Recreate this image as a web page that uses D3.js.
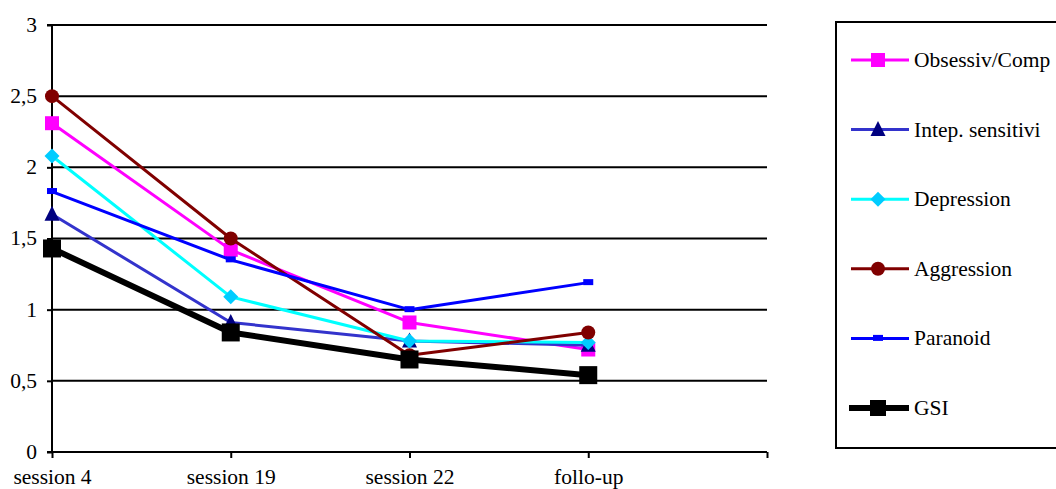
<!DOCTYPE html>
<html>
<head>
<meta charset="utf-8">
<script src="https://cdn.jsdelivr.net/npm/d3@7"></script>
<style>
  html, body { margin: 0; padding: 0; background: #fff; }
</style>
</head>
<body>
<svg id="chart" width="1056" height="489"></svg>
<script>
// Categories along the x axis (an empty fifth slot keeps the axis running past the last session)
const categories = ["session 4", "session 19", "session 22", "follo-up"];
const axisSlots = [...categories, ""];

// Y axis ticks and their labels (comma decimals)
const yTicks = [0, 0.5, 1, 1.5, 2, 2.5, 3];
const yTickLabels = ["0", "0,5", "1", "1,5", "2", "2,5", "3"];

// Series values per category
const obsessivComp = [2.31, 1.42, 0.91, 0.72];
const intepSensitivi = [1.67, 0.91, 0.78, 0.75];
const depression = [2.08, 1.09, 0.78, 0.77];
const aggression = [2.50, 1.50, 0.68, 0.84];
const paranoid = [1.83, 1.35, 1.00, 1.19];
const gsi = [1.43, 0.84, 0.65, 0.54];

const seriesNames = ["Obsessiv/Comp", "Intep. sensitivi", "Depression", "Aggression", "Paranoid", "GSI"];
const seriesValues = [obsessivComp, intepSensitivi, depression, aggression, paranoid, gsi];

// Styling per series
const styles = {
  "Obsessiv/Comp":   { line: "#FF00FF", fill: "#FF00FF", width: 3, marker: "square", size: 14 },
  "Intep. sensitivi":{ line: "#3333CC", fill: "#000080", width: 3, marker: "triangle", size: 15 },
  "Depression":      { line: "#00FFFF", fill: "#00CCFF", width: 3, marker: "diamond", size: 15 },
  "Aggression":      { line: "#800000", fill: "#800000", width: 3, marker: "circle", size: 14 },
  "Paranoid":        { line: "#0000FF", fill: "#0000FF", width: 3, marker: "dash", size: 8 },
  "GSI":             { line: "#000000", fill: "#000000", width: 6, marker: "square", size: 18 }
};

const FONT = "'Liberation Serif', 'DejaVu Serif', 'Times New Roman', serif";
const FONT_SIZE = 21.5;

const svg = d3.select("#chart");
const plot = { left: 52, right: 767, top: 25, bottom: 452 };

const x = d3.scalePoint().domain(axisSlots).range([plot.left, plot.right]);
const y = d3.scaleLinear().domain([0, 3]).range([plot.bottom, plot.top]);

// Horizontal gridlines
svg.append("g")
  .selectAll("line")
  .data(yTicks.filter(t => t > 0))
  .join("line")
  .attr("x1", plot.left).attr("x2", plot.right)
  .attr("y1", d => y(d)).attr("y2", d => y(d))
  .attr("stroke", "#000").attr("stroke-width", 2);

// Y axis
const yAxis = d3.axisLeft(y)
  .tickValues(yTicks)
  .tickFormat((d, i) => yTickLabels[i])
  .tickSize(5).tickPadding(10);
const gy = svg.append("g").attr("transform", `translate(${plot.left},0)`).call(yAxis);
gy.attr("font-family", FONT).attr("font-size", FONT_SIZE);
gy.select(".domain").attr("stroke", "#000").attr("stroke-width", 2).attr("d", `M-5,${plot.top}H0V${plot.bottom}H-5`);
gy.selectAll(".tick line").attr("stroke", "#000").attr("stroke-width", 2);
gy.selectAll(".tick text").attr("fill", "#000").attr("dy", "0.3em");

// X axis
const xAxis = d3.axisBottom(x).tickSize(6).tickPadding(4);
const gx = svg.append("g").attr("transform", `translate(0,${plot.bottom})`).call(xAxis);
gx.attr("font-family", FONT).attr("font-size", FONT_SIZE);
gx.select(".domain").attr("stroke", "#000").attr("stroke-width", 2).attr("d", `M${plot.left},0H${plot.right}`);
gx.selectAll(".tick line").attr("stroke", "#000").attr("stroke-width", 2);
gx.selectAll(".tick text").attr("fill", "#000").attr("y", 32).attr("dy", 0);

// Marker drawing helper
function drawMarker(g, type, size, fill, cx, cy) {
  const h = size / 2;
  if (type === "square") {
    g.append("rect").attr("x", cx - h).attr("y", cy - h).attr("width", size).attr("height", size).attr("fill", fill);
  } else if (type === "circle") {
    g.append("circle").attr("cx", cx).attr("cy", cy).attr("r", h).attr("fill", fill);
  } else if (type === "triangle") {
    g.append("path").attr("d", `M${cx},${cy - h - 1}L${cx + h},${cy + h - 1}L${cx - h},${cy + h - 1}Z`).attr("fill", fill);
  } else if (type === "diamond") {
    g.append("path").attr("d", `M${cx},${cy - h}L${cx + h},${cy}L${cx},${cy + h}L${cx - h},${cy}Z`).attr("fill", fill);
  } else if (type === "dash") {
    g.append("rect").attr("x", cx - 5).attr("y", cy - 3.5).attr("width", 10).attr("height", 6).attr("fill", fill);
  }
}

// Series lines and markers
const line = d3.line().x((d, i) => x(categories[i])).y(d => y(d));
seriesNames.forEach((name, si) => {
  const st = styles[name];
  const vals = seriesValues[si];
  const g = svg.append("g").attr("class", "series");
  g.append("path").datum(vals).attr("d", line)
    .attr("fill", "none").attr("stroke", st.line).attr("stroke-width", st.width)
    .attr("stroke-linejoin", "round");
  vals.forEach((v, i) => drawMarker(g, st.marker, st.size, st.fill, x(categories[i]), y(v)));
});

// Legend
const legend = { left: 836, top: 22, right: 1062, bottom: 448 };
svg.append("rect")
  .attr("x", legend.left).attr("y", legend.top)
  .attr("width", legend.right - legend.left).attr("height", legend.bottom - legend.top)
  .attr("fill", "#fff").attr("stroke", "#000").attr("stroke-width", 2);

const legendY = d3.scalePoint().domain(seriesNames).range([60, 408]);
seriesNames.forEach(name => {
  const st = styles[name];
  const ly = legendY(name);
  const g = svg.append("g");
  g.append("line").attr("x1", name === "GSI" ? 849 : 851).attr("x2", 909).attr("y1", ly).attr("y2", ly)
    .attr("stroke", st.line).attr("stroke-width", st.width);
  drawMarker(g, st.marker, name === "GSI" ? 16 : st.size, st.fill, 878, ly);
  g.append("text").attr("x", 914).attr("y", ly).attr("dy", "0.33em")
    .attr("font-family", FONT).attr("font-size", FONT_SIZE).attr("fill", "#000").text(name);
});
</script>
</body>
</html>
